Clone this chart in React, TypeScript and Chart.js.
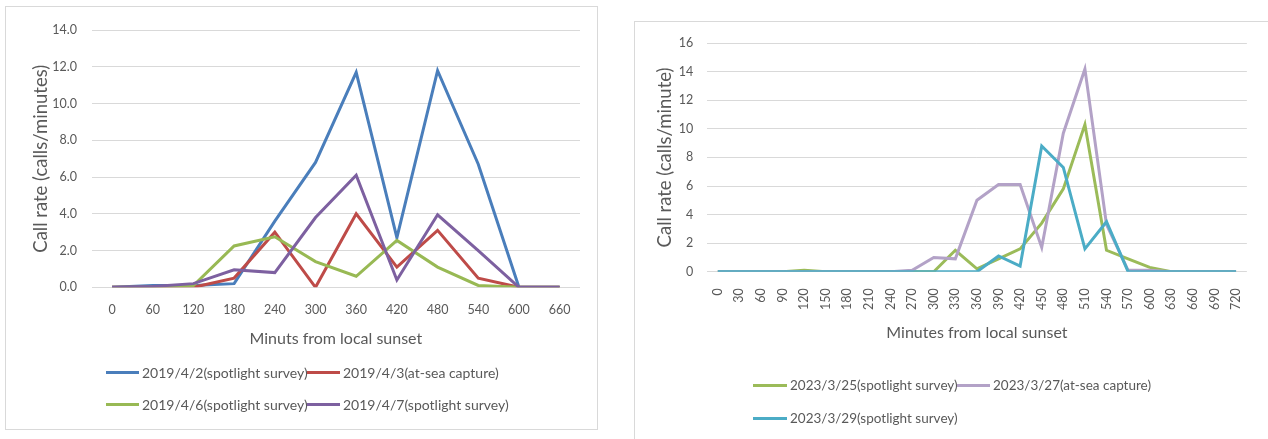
import React, { useEffect, useRef } from "react";
import { Chart, registerables } from "chart.js";

Chart.register(...registerables);

const FONT = "Lato, 'Open Sans', sans-serif";
const TEXT = "#595959";
const GRID = "#d9d9d9";

// ---------- Left chart data ----------
const leftCategories = ["0", "60", "120", "180", "240", "300", "360", "420", "480", "540", "600", "660"];
const leftNames = [
  "2019/4/2(spotlight survey)",
  "2019/4/3(at-sea capture)",
  "2019/4/6(spotlight survey)",
  "2019/4/7(spotlight survey)",
];
const leftColors = ["#4a7ebb", "#be4b48", "#98b954", "#7d60a0"];
const apr2 = [0, 0.1, 0.1, 0.2, 3.6, 6.8, 11.7, 2.7, 11.8, 6.7, 0, 0];
const apr3 = [0, 0, 0, 0.5, 3.0, 0, 4.0, 1.1, 3.1, 0.5, 0, 0];
const apr6 = [0, 0, 0.1, 2.25, 2.75, 1.4, 0.6, 2.55, 1.1, 0.1, 0, 0];
const apr7 = [0, 0.05, 0.2, 0.95, 0.8, 3.8, 6.1, 0.4, 3.95, 2.0, 0, 0];
const leftYMax = 14;
const leftYStep = 2;

// ---------- Right chart data ----------
const rightCategories = [
  "0", "30", "60", "90", "120", "150", "180", "210", "240", "270", "300", "330", "360",
  "390", "420", "450", "480", "510", "540", "570", "600", "630", "660", "690", "720",
];
const rightNames = [
  "2023/3/25(spotlight survey)",
  "2023/3/27(at-sea capture)",
  "2023/3/29(spotlight survey)",
];
const rightColors = ["#9bbb59", "#b3a2c7", "#4bacc6"];
const mar25 = [0, 0, 0, 0, 0.1, 0, 0, 0, 0, 0, 0, 1.5, 0.2, 0.9, 1.6, 3.4, 5.8, 10.3, 1.5, 0.9, 0.3, 0, 0, 0, 0];
const mar27 = [0, 0, 0, 0, 0, 0, 0, 0, 0, 0.1, 1.0, 0.9, 5.0, 6.1, 6.1, 1.7, 9.7, 14.2, 3.3, 0.1, 0.1, 0, 0, 0, 0];
const mar29 = [0, 0, 0, 0, 0, 0, 0, 0, 0, 0, 0, 0, 0, 1.1, 0.4, 8.8, 7.3, 1.6, 3.5, 0, 0, 0, 0, 0, 0];
const rightYMax = 16;
const rightYStep = 2;

type ChartSpec = {
  x: number;
  y: number;
  w: number;
  h: number;
  labels: string[];
  series: number[][];
  names: string[];
  colors: string[];
  yMax: number;
  yStep: number;
  yFmt: (v: number) => string;
  yTitle: string;
  xTitle: string;
  padTop: number;
  padRight: number;
  yAxisWidth: number;
  xAxisHeight: number;
  yTickPad: number;
  xTickPad: number;
  tickSize: number;
  yTitleSize: number;
  yTitlePad: number;
  xTitleSize: number;
  xTitlePadBottom: number;
  rotate: number;
};

function LineChartCanvas({ spec }: { spec: ChartSpec }) {
  const ref = useRef<HTMLCanvasElement | null>(null);
  useEffect(() => {
    if (!ref.current) return;
    const n = spec.series.length;
    const chart = new Chart(ref.current, {
      type: "line",
      data: {
        labels: spec.labels,
        datasets: spec.series.map((d, i) => ({
          label: spec.names[i],
          data: d,
          borderColor: spec.colors[i],
          backgroundColor: spec.colors[i],
          borderWidth: 3,
          pointRadius: 0,
          pointHoverRadius: 0,
          tension: 0,
          fill: false,
          order: n - i,
          borderJoinStyle: "miter" as const,
        })),
      },
      options: {
        responsive: false,
        animation: false,
        devicePixelRatio: 1,
        layout: { padding: { left: 0, right: spec.padRight, top: spec.padTop, bottom: 0 } },
        plugins: { legend: { display: false }, tooltip: { enabled: false } },
        scales: {
          x: {
            offset: true,
            grid: { display: false, drawTicks: false },
            border: { display: false },
            ticks: {
              color: TEXT,
              font: { family: FONT, size: spec.tickSize },
              padding: spec.xTickPad,
              autoSkip: false,
              maxRotation: spec.rotate,
              minRotation: spec.rotate,
            },
            title: {
              display: true,
              text: spec.xTitle,
              color: TEXT,
              font: { family: FONT, size: spec.xTitleSize },
              padding: { top: 0, bottom: spec.xTitlePadBottom },
            },
            afterFit: (axis: any) => {
              axis.height = spec.xAxisHeight;
            },
          },
          y: {
            min: 0,
            max: spec.yMax,
            grid: { color: GRID, lineWidth: 1, drawTicks: false },
            border: { display: false },
            ticks: {
              stepSize: spec.yStep,
              color: TEXT,
              font: { family: FONT, size: spec.tickSize },
              padding: spec.yTickPad,
              callback: (v: any) => spec.yFmt(Number(v)),
            },
            title: {
              display: true,
              text: spec.yTitle,
              color: TEXT,
              font: { family: FONT, size: spec.yTitleSize },
              padding: { top: spec.yTitlePad, bottom: 0 },
            },
            afterFit: (axis: any) => {
              axis.width = spec.yAxisWidth;
            },
          },
        },
      },
    });
    return () => chart.destroy();
  }, [spec]);
  return (
    <canvas
      ref={ref}
      width={spec.w}
      height={spec.h}
      style={{ position: "absolute", left: spec.x, top: spec.y, width: spec.w, height: spec.h, display: "block" }}
    />
  );
}

type LegendItem = { name: string; color: string; x: number; y: number; lineW: number; size: number };

function HtmlLegend({ items }: { items: LegendItem[] }) {
  return (
    <>
      {items.map((it, i) => (
        <div
          key={i}
          style={{
            position: "absolute",
            left: it.x,
            top: it.y - 11,
            height: 22,
            display: "flex",
            alignItems: "center",
            whiteSpace: "nowrap",
            fontFamily: FONT,
            fontSize: it.size,
            color: TEXT,
          }}
        >
          <span style={{ display: "inline-block", width: it.lineW, height: 3, background: it.color, marginRight: 3 }} />
          <span>{it.name}</span>
        </div>
      ))}
    </>
  );
}

const leftSpec: ChartSpec = {
  x: 6,
  y: 8,
  w: 591,
  h: 421,
  labels: leftCategories,
  series: [apr2, apr3, apr6, apr7],
  names: leftNames,
  colors: leftColors,
  yMax: leftYMax,
  yStep: leftYStep,
  yFmt: (v) => v.toFixed(1),
  yTitle: "Call rate (calls/minutes)",
  xTitle: "Minuts from local sunset",
  padTop: 20.3,
  padRight: 17,
  yAxisWidth: 85.7,
  xAxisHeight: 141.7,
  yTickPad: 14.7,
  xTickPad: 15.2,
  tickSize: 12.5,
  yTitleSize: 18.5,
  yTitlePad: 23.9,
  xTitleSize: 16,
  xTitlePadBottom: 80.4,
  rotate: 0,
};

const rightSpec: ChartSpec = {
  x: 635,
  y: 22,
  w: 633,
  h: 417,
  labels: rightCategories,
  series: [mar25, mar27, mar29],
  names: rightNames,
  colors: rightColors,
  yMax: rightYMax,
  yStep: rightYStep,
  yFmt: (v) => String(v),
  yTitle: "Call rate (calls/minute)",
  xTitle: "Minutes from local sunset",
  padTop: 20.3,
  padRight: 16.3,
  yAxisWidth: 72,
  xAxisHeight: 167.3,
  yTickPad: 13.7,
  xTickPad: 16.6,
  tickSize: 12.5,
  yTitleSize: 18.5,
  yTitlePad: 18.9,
  xTitleSize: 16,
  xTitlePadBottom: 96.1,
  rotate: 90,
};

const leftLegend: LegendItem[] = [
  { name: leftNames[0], color: leftColors[0], x: 106, y: 372.5, lineW: 33, size: 14 },
  { name: leftNames[1], color: leftColors[1], x: 307, y: 372.5, lineW: 33, size: 14 },
  { name: leftNames[2], color: leftColors[2], x: 106, y: 404, lineW: 33, size: 14 },
  { name: leftNames[3], color: leftColors[3], x: 307, y: 404, lineW: 33, size: 14 },
];

const rightLegend: LegendItem[] = [
  { name: rightNames[0], color: rightColors[0], x: 753, y: 385, lineW: 34, size: 13.5 },
  { name: rightNames[1], color: rightColors[1], x: 957, y: 385, lineW: 33, size: 13.5 },
  { name: rightNames[2], color: rightColors[2], x: 753, y: 418.3, lineW: 34, size: 13.5 },
];

export default function App() {
  return (
    <div
      style={{
        position: "absolute",
        left: 0,
        top: 0,
        width: 1268,
        height: 439,
        overflow: "hidden",
        background: "#ffffff",
      }}
    >
      <div
        style={{
          position: "absolute",
          left: 5,
          top: 6,
          width: 593,
          height: 424,
          border: `1px solid ${GRID}`,
          boxSizing: "border-box",
        }}
      />
      <div
        style={{
          position: "absolute",
          left: 634,
          top: 21,
          width: 700,
          height: 500,
          border: `1px solid ${GRID}`,
          boxSizing: "border-box",
        }}
      />
      <LineChartCanvas spec={leftSpec} />
      <LineChartCanvas spec={rightSpec} />
      <HtmlLegend items={leftLegend} />
      <HtmlLegend items={rightLegend} />
    </div>
  );
}
